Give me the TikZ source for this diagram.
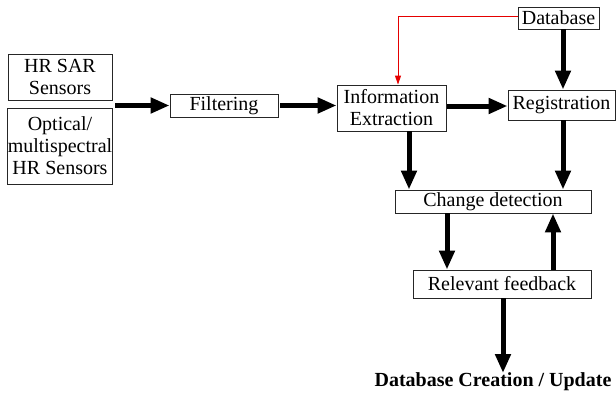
\documentclass[tikz,border=0pt]{standalone}
\usepackage{fontspec}
\setmainfont{Liberation Serif}
\usetikzlibrary{arrows.meta}
\begin{document}
\begin{tikzpicture}[x=1pt,y=-1pt,
  box/.style={draw=black!85,line width=0.9pt,inner sep=0pt,align=center,
    font=\fontsize{20}{22}\selectfont},
  big/.style={line width=5pt,-{Triangle[length=19pt,width=15pt]}},
  thin/.style={red!90!black,line width=1pt,-{Triangle[length=9pt,width=6pt]}}]
\useasboundingbox (0,0) rectangle (616,394);
\node[box,minimum width=104pt,minimum height=46pt] (sar) at (60,77) {HR SAR\\Sensors};
\node[box,minimum width=104pt,minimum height=76pt] (opt) at (60,146) {Optical/\\multispectral\\HR Sensors};
\node[box,minimum width=108pt,minimum height=23pt] (filt) at (224,106) {Filtering};
\node[box,minimum width=109pt,minimum height=46pt] (info) at (391.5,108) {Information\\Extraction};
\node[box,minimum width=107pt,minimum height=30pt] (reg) at (561.5,105) {Registration};
\node[box,minimum width=81pt,minimum height=22pt] (db) at (558.5,18) {Database};
\node[box,minimum width=196pt,minimum height=23pt] (cd) at (493,201.5) {Change detection};
\node[box,minimum width=178pt,minimum height=28pt] (rf) at (502,284) {Relevant feedback};
\node[inner sep=0pt,font=\fontsize{20}{22}\selectfont\bfseries] (out) at (493,382) {Database Creation / Update};
\coordinate (src) at (115,105.5);
\draw[big] (src) -- (filt.west |- src);
\draw[big] ([xshift=2pt]filt.east |- src) -- (info.west |- src);
\draw[big] ([xshift=1pt]info.east |- 0,106) -- (reg.west |- 0,106);
\draw[thin] (db.west |- 0,16) -| (info.north -| 398,0);
\draw[big] (db.south -| 563,0) -- (reg.north -| 563,0);
\draw[big] (info.south -| 409,0) -- (cd.north -| 409,0);
\draw[big] (reg.south -| 563,0) -- (cd.north -| 563,0);
\draw[big] (cd.south -| 447,0) -- (rf.north -| 447,0);
\draw[big] (rf.north -| 553,0) -- (cd.south -| 553,0);
\draw[big] (rf.south -| 503,0) -- (503,373);
\end{tikzpicture}
\end{document}
